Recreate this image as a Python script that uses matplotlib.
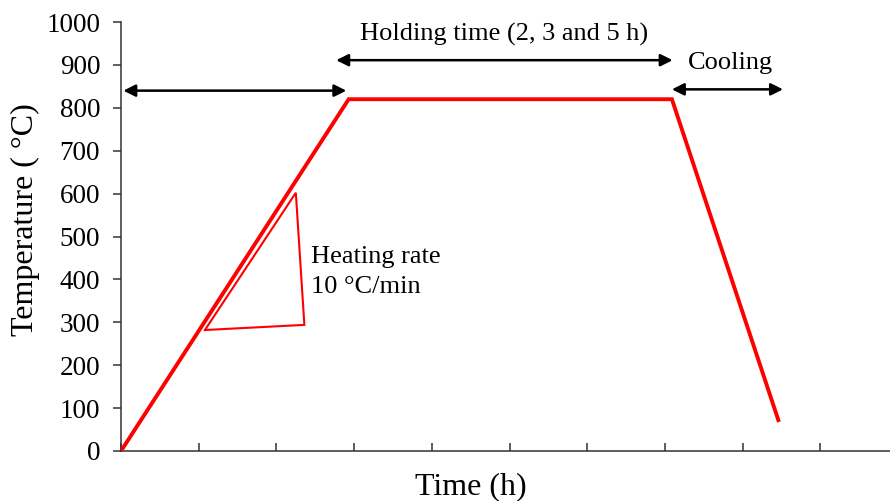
import matplotlib
matplotlib.use('Agg')
import matplotlib.pyplot as plt
import numpy as np

# -- datos del perfil térmico --
profile_time = [0, 2.93, 7.09, 8.46]
profile_temp = [0, 820, 820, 72]

# triángulo de la tasa de calentamiento
tri_time = [1.08, 2.25, 2.36, 1.08]
tri_temp = [282, 602, 294, 282]

# flechas de etapas: (inicio, fin, altura)
arrow_start = [0.03, 2.77, 7.09]
arrow_end = [2.90, 7.10, 8.52]
arrow_temp = [840, 911, 843]

y_ticks = list(range(0, 1001, 100))
x_ticks = list(range(0, 10))

plt.rcParams['font.family'] = ['Liberation Serif', 'DejaVu Serif']

fig = plt.figure(figsize=(8.9, 5.01), dpi=100)
ax = fig.add_axes([121 / 890, 50 / 501, 769 / 890, 429 / 501])

red = '#ff0000'
ax.plot(profile_time, profile_temp, color=red, lw=2.8, solid_joinstyle='miter', zorder=3)
ax.plot(tri_time, tri_temp, color=red, lw=1.5, solid_joinstyle='miter', zorder=3)

for x0, x1, t in zip(arrow_start, arrow_end, arrow_temp):
    ax.annotate('', xy=(x1, t), xytext=(x0, t),
                arrowprops=dict(arrowstyle='<|-|>', color='black', lw=1.8,
                                mutation_scale=18, shrinkA=0, shrinkB=0))

ax.text(4.93, 972, 'Holding time (2, 3 and 5 h)', ha='center', va='center', fontsize=19)
ax.text(7.84, 905, 'Cooling', ha='center', va='center', fontsize=19)
ax.text(2.45, 452, 'Heating rate', ha='left', va='center', fontsize=19)
ax.text(2.45, 382, '10 °C/min', ha='left', va='center', fontsize=19)

ax.set_xlim(0, 769 / 77.7)
ax.set_ylim(0, 1000)
ax.set_yticks(y_ticks)
ax.set_xticks(x_ticks)
ax.set_xticklabels([])
ax.tick_params(axis='y', direction='out', length=6, width=1.1, labelsize=19.5, pad=9, color='#333333')
ax.tick_params(axis='x', direction='in', length=6, width=1.1, color='#333333')

for s in ['top', 'right']:
    ax.spines[s].set_visible(False)
for s in ['left', 'bottom']:
    ax.spines[s].set_linewidth(1.1)
    ax.spines[s].set_color('#333333')

ax.set_ylabel('Temperature ( °C)', fontsize=23)
ax.yaxis.set_label_coords(-0.105, 0.54)
ax.set_xlabel('Time (h)', fontsize=23)
ax.xaxis.set_label_coords(0.455, -0.05)

fig.savefig('out.png', dpi=100)
